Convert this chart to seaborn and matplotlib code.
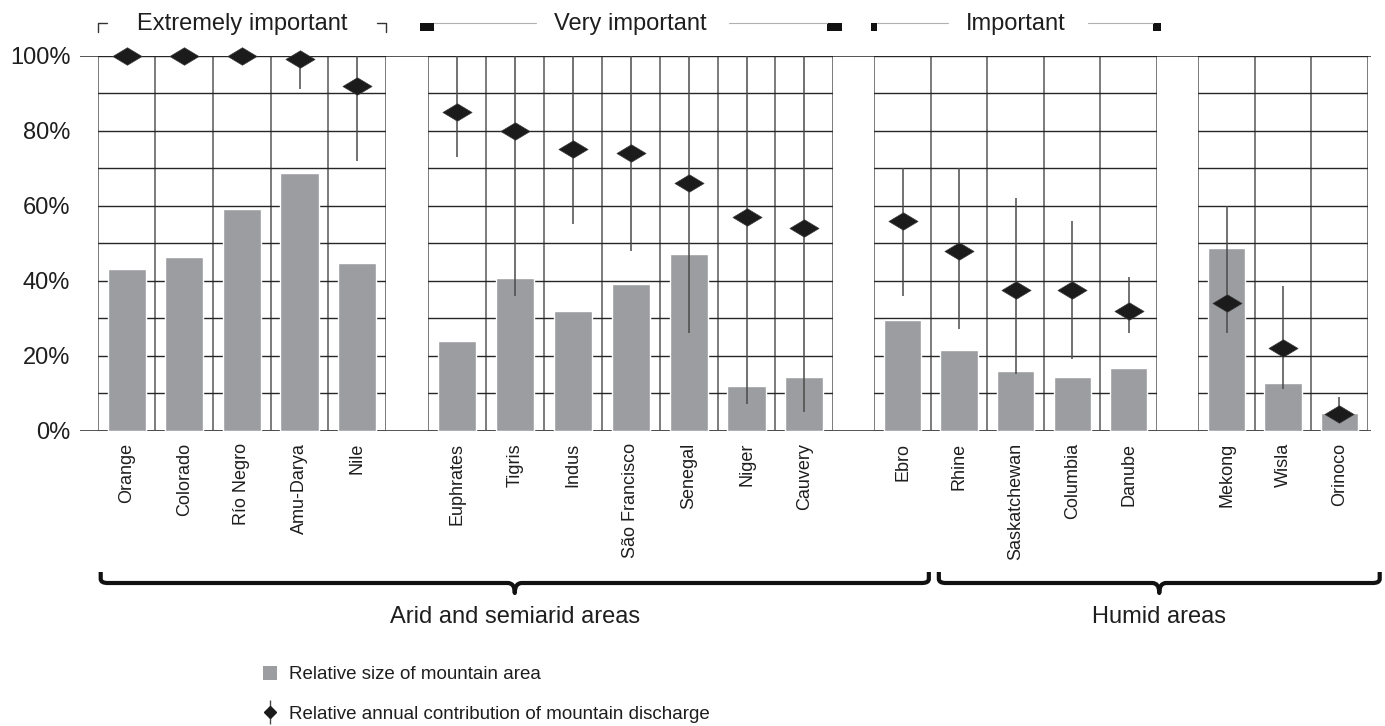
import numpy as np
import matplotlib
matplotlib.use("Agg")
import matplotlib.pyplot as plt
import seaborn as sns
from matplotlib.path import Path
from matplotlib.patches import PathPatch, Patch, Rectangle
from matplotlib.lines import Line2D
from matplotlib.legend_handler import HandlerTuple

# ---- data -------------------------------------------------------------
rivers_extreme = ["Orange", "Colorado", "Río Negro", "Amu-Darya", "Nile"]
rivers_very = ["Euphrates", "Tigris", "Indus", "São Francisco", "Senegal", "Niger", "Cauvery"]
rivers_important = ["Ebro", "Rhine", "Saskatchewan", "Columbia", "Danube"]
rivers_other = ["Mekong", "Wisla", "Orinoco"]

# relative size of mountain area (%)
area_extreme = [43.0, 46.3, 59.0, 68.7, 44.7]
area_very = [24.0, 40.7, 32.0, 39.0, 47.0, 12.0, 14.3]
area_important = [29.5, 21.5, 16.0, 14.3, 16.7]
area_other = [48.7, 12.7, 4.7]

# relative annual contribution of mountain discharge (%)
disch_extreme = [100, 100, 100, 99, 92]
disch_very = [85, 80, 75, 74, 66, 57, 54]
disch_important = [56, 48, 37.5, 37.5, 32]
disch_other = [34, 22, 4.5]

# range of the discharge contribution (%)
low_extreme = [np.nan, np.nan, np.nan, 91, 72]
high_extreme = [np.nan, np.nan, np.nan, 100, 100]
low_very = [73, 36, 55, 48, 26, 7, 5]
high_very = [100, 100, 100, 100, 100, 100, 100]
low_important = [36, 27, 15, 19, 26]
high_important = [70, 70, 62, 56, 41]
low_other = [26, 11, 3]
high_other = [60, 38.5, 9]

importance_labels = ["Extremely important", "Very important", "Important", None]
climate_labels = ["Arid and semiarid areas", "Humid areas"]
n_arid = 13  # Orange ... Ebro

y_major = [0, 20, 40, 60, 80, 100]
y_minor = [10, 30, 50, 70, 90]
y_ticklabels = ["0%", "20%", "40%", "60%", "80%", "100%"]

# ---- style ------------------------------------------------------------
sns.set_style("white")
plt.rcParams["font.family"] = ["Liberation Sans", "DejaVu Sans"]
TXT = "#1e1e1e"
BAR = "#9c9da1"
HGRID = "#262626"
VGRID = "#575757"
STEM = "#4a4a4a"
DIAM = "#1b1b1b"

W, H = 1385, 726
TOP, BOTTOM = 55.5, 430.5
panel_x = [(97.7, 386.0), (428.3, 833.3), (874.3, 1157.0), (1198.3, 1367.7)]

fig = plt.figure(figsize=(W / 100, H / 100), dpi=100)


def rect(x0, x1):
    return [x0 / W, 1 - BOTTOM / H, (x1 - x0) / W, (BOTTOM - TOP) / H]


# full-width frame lines at 0% and 100% running across the gaps
ax_frame = fig.add_axes(rect(80.0, 1371.0))
ax_frame.set_ylim(0, 100)
ax_frame.axhline(0, color=HGRID, lw=1.1)
ax_frame.axhline(100, color=HGRID, lw=1.1)
ax_frame.set_axis_off()

# decoration layer in pixel units
ax_d = fig.add_axes([0, 0, 1, 1])
ax_d.set_xlim(0, W)
ax_d.set_ylim(H, 0)
ax_d.set_axis_off()
ax_d.patch.set_alpha(0)

diamond = Path([(-0.5, 0), (0, 0.3), (0.5, 0), (0, -0.3), (-0.5, 0)],
               [Path.MOVETO, Path.LINETO, Path.LINETO, Path.LINETO, Path.CLOSEPOLY])

panels = [
    (rivers_extreme, area_extreme, disch_extreme, low_extreme, high_extreme),
    (rivers_very, area_very, disch_very, low_very, high_very),
    (rivers_important, area_important, disch_important, low_important, high_important),
    (rivers_other, area_other, disch_other, low_other, high_other),
]

boundaries_px = []
for k, (names, area, disch, lo, hi) in enumerate(panels):
    x0, x1 = panel_x[k]
    n = len(names)
    ax = fig.add_axes(rect(x0, x1))
    ax.patch.set_alpha(0)
    sns.barplot(x=names, y=area, order=names, color=BAR, saturation=1,
                width=0.66, errorbar=None, ax=ax)
    pos = np.arange(n)
    ax.vlines(pos, lo, hi, color=STEM, lw=1.1, zorder=3)
    ax.scatter(pos, disch, marker=diamond, s=21 ** 2, color=DIAM,
               edgecolor="#3a3a3a", linewidth=0.5, zorder=4, clip_on=False)
    ax.set_xlim(-0.5, n - 0.5)
    ax.set_ylim(0, 100)
    ax.set_axisbelow(True)
    for s in ax.spines.values():
        s.set_visible(False)
    ax.set_xlabel("")
    ax.set_ylabel("")

    ax.set_yticks(y_major)
    ax.set_yticks(y_minor, minor=True)
    ax.yaxis.grid(True, which="both", color=HGRID, lw=1.0)
    ax.set_xticks(pos)
    ax.set_xticklabels(names, rotation=90, fontsize=13, color=TXT)
    ax.set_xticks(np.arange(-0.5, n, 1.0), minor=True)
    ax.xaxis.grid(True, which="minor", color=VGRID, lw=1.1)
    ax.tick_params(axis="x", which="major", length=0, pad=9)
    ax.tick_params(axis="x", which="minor", length=6.5, width=1.1,
                   color=VGRID, direction="out")
    if k == 0:
        ax.set_yticklabels(y_ticklabels, fontsize=17, color=TXT)
        ax.tick_params(axis="y", which="both", length=12.7, width=1.0,
                       color=HGRID, direction="out", pad=7)
    else:
        ax.tick_params(axis="y", which="both", length=0, labelleft=False)

    step = (x1 - x0) / n
    boundaries_px.extend([x0 + i * step for i in range(n)])
    if k == len(panels) - 1:
        boundaries_px.append(x1)

    # importance header above the panel
    title = importance_labels[k]
    if title is None:
        continue
    ly = 22.7
    xc = (x0 + x1) / 2
    t = ax_d.text(xc, 30, title, ha="center", va="baseline", fontsize=17, color=TXT)
    if k == 0:
        ax_d.plot([x0, x0, x0 + 9], [32.3, ly, ly], color="#333333", lw=1.0)
        ax_d.plot([x1 - 9, x1, x1], [ly, ly, 32.3], color="#333333", lw=1.0)
    else:
        fig.canvas.draw()
        bb = t.get_window_extent(fig.canvas.get_renderer())
        inv = ax_d.transData.inverted()
        tl = inv.transform((bb.x0, bb.y0))[0]
        tr = inv.transform((bb.x1, bb.y0))[0]
        if k == 1:
            bl, bw, br = x0 - 8, 14, x1 - 6.6
            brw = 15
        else:
            bl, bw, br = x0 - 3.6, 6, x1 - 3.7
            brw = 7.4
        ax_d.add_patch(Rectangle((bl, ly), bw, 8.5, color="#111111", lw=0))
        ax_d.add_patch(Rectangle((br, ly), brw, 8.5, color="#111111", lw=0))
        ax_d.plot([bl + bw, tl - 18], [ly, ly], color="#b0b0b0", lw=0.8)
        ax_d.plot([tr + 22, br], [ly, ly], color="#b0b0b0", lw=0.8)


def brace(xa, xb, label):
    ytop, ymid, ytip = 572, 583, 593
    xc = (xa + xb) / 2
    r = 7
    verts = [(xa, ytop), (xa, ymid - 4), (xa, ymid), (xa + r, ymid),
             (xc - r, ymid), (xc, ymid), (xc, ytip),
             (xc, ymid), (xc + r, ymid),
             (xb - r, ymid), (xb, ymid), (xb, ymid - 4), (xb, ytop)]
    codes = [Path.MOVETO, Path.LINETO, Path.CURVE3, Path.CURVE3,
             Path.LINETO, Path.CURVE3, Path.CURVE3,
             Path.CURVE3, Path.CURVE3,
             Path.LINETO, Path.CURVE3, Path.CURVE3, Path.LINETO]
    ax_d.add_patch(PathPatch(Path(verts, codes), fill=False, lw=3.0,
                             edgecolor="#111111", capstyle="butt", joinstyle="round"))
    ax_d.text(xc, 617, label, ha="center", va="center", fontsize=17, color=TXT)


brace(boundaries_px[0] + 3, boundaries_px[n_arid] - 2, climate_labels[0])
brace(boundaries_px[n_arid] + 8, boundaries_px[-1] + 12, climate_labels[1])

# legend
h_area = Patch(facecolor=BAR, edgecolor="none")
h_stem = Line2D([], [], color=STEM, marker="|", markersize=17, markeredgewidth=1.0, ls="none")
h_diam = Line2D([], [], color=DIAM, marker="D", markersize=6.5, ls="none")
leg = fig.legend([h_area, (h_stem, h_diam)],
                 ["Relative size of mountain area",
                  "Relative annual contribution of mountain discharge"],
                 handler_map={tuple: HandlerTuple(ndivide=1)},
                 loc="upper left", bbox_to_anchor=(263 / W, 1 - 666 / H),
                 frameon=False, fontsize=13.5, handlelength=0.75, handleheight=0.75,
                 handletextpad=0.65, labelspacing=1.16, borderpad=0, borderaxespad=0)
for txt in leg.get_texts():
    txt.set_color(TXT)

fig.savefig("out.png", dpi=100)
